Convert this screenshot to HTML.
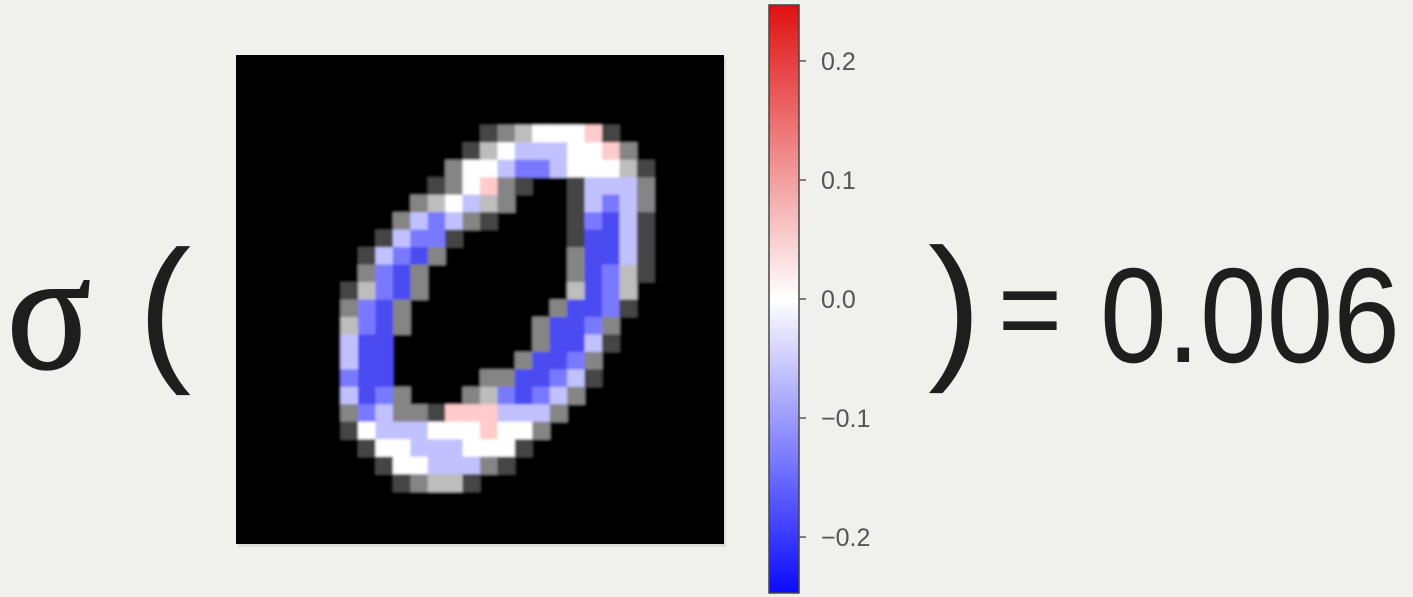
<!DOCTYPE html>
<html><head><meta charset="utf-8"><style>
html,body{margin:0;padding:0;background:#f0f0ed;}
svg{display:block;}
</style></head><body>
<svg id="root" width="1413" height="597" xmlns="http://www.w3.org/2000/svg">
<defs>
<linearGradient id="bwr" x1="0" y1="1" x2="0" y2="0">
<stop offset="0" stop-color="#0a0aff"/><stop offset="0.5" stop-color="#ffffff"/><stop offset="1" stop-color="#e01010"/>
</linearGradient>
<filter id="soft" x="0" y="0" width="1" height="1"><feGaussianBlur stdDeviation="1.3"/></filter>
</defs>
<rect x="0" y="0" width="1413" height="597" fill="#f0f0ed"/>
<text x="7" y="368" font-family="'Liberation Serif', serif" font-size="170" fill="#1e1e1e" stroke="#1e1e1e" stroke-width="2" textLength="84" lengthAdjust="spacingAndGlyphs">σ</text>
<text x="138" y="362" font-family="'Liberation Sans', sans-serif" font-size="160" fill="#1e1e1e">(</text>
<rect x="238" y="58" width="488" height="489" fill="#cfcfcc" opacity="0.6"/>
<rect x="236" y="55" width="488" height="489" fill="#000"/>
<g id="heat" filter="url(#soft)"></g>
<rect x="769" y="5" width="30" height="588" fill="url(#bwr)" stroke="#444" stroke-width="1.5"/>
<g id="cbticks"></g>
<text x="928" y="360" font-family="'Liberation Sans', sans-serif" font-size="160" fill="#1e1e1e">)</text>
<text x="998" y="350" font-family="'Liberation Sans', sans-serif" font-size="120" fill="#1e1e1e" textLength="64" lengthAdjust="spacingAndGlyphs">=</text>
<text x="1100" y="362" font-family="'Liberation Sans', sans-serif" font-size="135" fill="#1e1e1e" textLength="300" lengthAdjust="spacingAndGlyphs">0.006</text>
</svg>
<script>
const NS = "http://www.w3.org/2000/svg";
// 28x28 pixel grid; each char = (intensity, heat value)
const gridRows = [
"............................",
"............................",
"............................",
"............................",
"..............dgGwwwpd......",
".............dGwlllwwpg.....",
"............gwwlmmlwwwGd....",
"...........dgwpgd..dlllg....",
"..........gGwlGg...dlmlg....",
".........glmlgd....dmBld....",
"........dlmmd......dBBld....",
".......dlmBg.......gBBld....",
".......gmBg........gBmGd....",
"......dGmBg........GBmG.....",
"......gmBg........gBBmd.....",
"......GmBg.......gBBmg......",
"......lBB........gBBld......",
"......lBB.......gBBmg.......",
"......mBB.....ggBBmld.......",
"......lBmg...gGmBmlg........",
"......gmlggdppplllg.........",
"......dwlllwwwpwwg..........",
".......dwwlllwwwd...........",
"........dwwlllgd............",
".........dgGGd..............",
"............................",
"............................",
"............................"
];
const codeChars = [".", "d", "g", "G", "w", "l", "m", "B", "p"];
const codeIntensity = [0, 0.27, 0.52, 0.74, 1, 1, 1, 0.95, 1];
const codeValue = [0, 0, 0, 0, 0, -0.06, -0.13, -0.17, 0.05];
const tickValues = [0.2, 0.1, 0.0, -0.1, -0.2];
const tickLabels = ["0.2", "0.1", "0.0", "\u22120.1", "\u22120.2"];

const img = {x: 236, y: 55, w: 488, h: 489};
const n = 28;
const cw = img.w / n, ch = img.h / n;
const vmin = -0.247, vmax = 0.247;
const cb = {y0: 5, y1: 593};
function cbY(v){ return cb.y1 - (v - vmin) / (vmax - vmin) * (cb.y1 - cb.y0); }
function bwr(v){
  let t = (v - vmin) / (vmax - vmin); t = Math.max(0, Math.min(1, t));
  if (t < 0.5) return [2*t, 2*t, 1];
  return [1, 2*(1-t), 2*(1-t)];
}
const heat = document.getElementById('heat');
const bg = document.createElementNS(NS, 'rect');
bg.setAttribute('x', img.x); bg.setAttribute('y', img.y);
bg.setAttribute('width', img.w); bg.setAttribute('height', img.h);
bg.setAttribute('fill', '#000');


heat.appendChild(bg);
for (let r = 0; r < n; r++) {
  for (let c = 0; c < n; c++) {
    const k = codeChars.indexOf(gridRows[r][c]);
    if (k <= 0) continue;
    const col = bwr(codeValue[k]);
    const I = codeIntensity[k];
    const rc = document.createElementNS(NS, 'rect');
    rc.setAttribute('x', (img.x + c*cw).toFixed(2));
    rc.setAttribute('y', (img.y + r*ch).toFixed(2));
    rc.setAttribute('width', (cw + 0.4).toFixed(2));
    rc.setAttribute('height', (ch + 0.4).toFixed(2));
    rc.setAttribute('fill', 'rgb(' + col.map(x => Math.round(x*I*255)).join(',') + ')');
    
    
    heat.appendChild(rc);
  }
}
const tg = document.getElementById('cbticks');
tickValues.forEach((v, i) => {
  const y = cbY(v);
  const ln = document.createElementNS(NS, 'line');
  ln.setAttribute('x1', 799); ln.setAttribute('x2', 806);
  ln.setAttribute('y1', y); ln.setAttribute('y2', y);
  ln.setAttribute('stroke', '#555'); ln.setAttribute('stroke-width', '1.5');
  
  
  tg.appendChild(ln);
  const tx = document.createElementNS(NS, 'text');
  tx.setAttribute('x', 821); tx.setAttribute('y', y + 9);
  tx.setAttribute('font-family', "'Liberation Sans', sans-serif");
  tx.setAttribute('font-size', '25');
  tx.setAttribute('fill', '#555');
  tx.textContent = tickLabels[i];
  
  
  tg.appendChild(tx);
});
</script>
</body></html>
